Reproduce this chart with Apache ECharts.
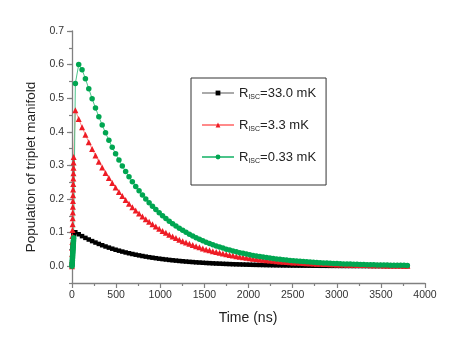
<!DOCTYPE html>
<html>
<head>
<meta charset="utf-8">
<script src="https://cdn.jsdelivr.net/npm/echarts@6/dist/echarts.min.js"></script>
<style>html,body{margin:0;padding:0;background:#fff;}#c{width:463px;height:354px;}</style>
</head>
<body>
<div id="c"></div>
<script>
// Time points (ns)
var timeNs = [0,1,2,3,4,5,6,7,8,9,10,11,12,13,14,15,16,17,18,19,
38,76,114,152,190,228,266,304,342,380,418,456,494,532,570,608,646,684,722,760,
798,836,874,912,950,988,1026,1064,1102,1140,1178,1216,1254,1292,1330,1368,1406,1444,1482,1520,
1558,1596,1634,1672,1710,1748,1786,1824,1862,1900,1938,1976,2014,2052,2090,2128,2166,2204,2242,2280,
2318,2356,2394,2432,2470,2508,2546,2584,2622,2660,2698,2736,2774,2812,2850,2888,2926,2964,3002,3040,
3078,3116,3154,3192,3230,3268,3306,3344,3382,3420,3458,3496,3534,3572,3610,3648,3686,3724,3762,3800];

// R_ISC = 33.0 mK (black squares)
var pop33 = [0,0.006,0.012,0.018,0.024,0.029,0.035,0.040,0.046,0.051,
0.056,0.061,0.066,0.071,0.076,0.080,0.085,0.089,0.093,0.097,
0.1010,0.0951,0.0895,0.0843,0.0794,0.0747,0.0704,0.0663,0.0624,0.0587,
0.0553,0.0521,0.0490,0.0462,0.0435,0.0409,0.0385,0.0363,0.0342,0.0322,
0.0303,0.0285,0.0268,0.0253,0.0238,0.0224,0.0211,0.0199,0.0187,0.0176,
0.0166,0.0156,0.0147,0.0138,0.0130,0.0123,0.0115,0.0109,0.0102,0.0096,
0.0091,0.0085,0.0080,0.0076,0.0071,0.0067,0.0063,0.0059,0.0056,0.0053,
0.0050,0.0047,0.0044,0.0041,0.0039,0.0037,0.0035,0.0033,0.0031,0.0029,
0.0027,0.0026,0.0024,0.0023,0.0021,0.0020,0.0019,0.0018,0.0017,0.0016,
0.0015,0.0014,0.0013,0.0012,0.0012,0.0011,0.0010,0.0010,0.0009,0.0008,
0.0008,0.0007,0.0007,0.0006,0.0006,0.0006,0.0005,0.0005,0.0005,0.0004,
0.0004,0.0004,0.0004,0.0003,0.0003,0.0003,0.0003,0.0003,0.0002,0.0002];

// R_ISC = 3.3 mK (red triangles)
var pop3_3 = [0,0.018,0.036,0.054,0.072,0.090,0.108,0.125,0.143,0.160,
0.177,0.194,0.211,0.228,0.245,0.261,0.277,0.293,0.309,0.325,
0.4640,0.4382,0.4139,0.3909,0.3692,0.3488,0.3294,0.3111,0.2939,0.2776,
0.2622,0.2476,0.2339,0.2209,0.2086,0.1970,0.1861,0.1758,0.1660,0.1568,
0.1481,0.1399,0.1321,0.1248,0.1179,0.1113,0.1051,0.0993,0.0938,0.0886,
0.0837,0.0790,0.0746,0.0705,0.0666,0.0629,0.0594,0.0561,0.0530,0.0500,
0.0473,0.0446,0.0422,0.0398,0.0376,0.0355,0.0336,0.0317,0.0299,0.0283,
0.0267,0.0252,0.0238,0.0225,0.0213,0.0201,0.0190,0.0179,0.0169,0.0160,
0.0151,0.0143,0.0135,0.0127,0.0120,0.0113,0.0107,0.0101,0.0096,0.0090,
0.0085,0.0081,0.0076,0.0072,0.0068,0.0064,0.0061,0.0057,0.0054,0.0051,
0.0048,0.0046,0.0043,0.0041,0.0039,0.0036,0.0034,0.0032,0.0031,0.0029,
0.0027,0.0026,0.0024,0.0023,0.0022,0.0021,0.0019,0.0018,0.0017,0.0016];

// R_ISC = 0.33 mK (green circles)
var pop0_33 = [0,0.0045,0.009,0.0135,0.018,0.0225,0.027,0.0315,0.036,0.0405,
0.045,0.0495,0.054,0.058,0.063,0.067,0.072,0.076,0.081,0.085,
0.544,0.600,0.585,0.558,0.5280,0.4987,0.4710,0.4449,0.4202,0.3969,
0.3748,0.3540,0.3344,0.3158,0.2983,0.2817,0.2661,0.2513,0.2374,0.2242,
0.2118,0.2000,0.1889,0.1784,0.1685,0.1592,0.1503,0.1420,0.1341,0.1267,
0.1196,0.1130,0.1067,0.1008,0.0952,0.0899,0.0849,0.0802,0.0758,0.0716,
0.0676,0.0638,0.0603,0.0569,0.0538,0.0508,0.0480,0.0453,0.0428,0.0404,
0.0382,0.0361,0.0341,0.0322,0.0304,0.0287,0.0271,0.0256,0.0242,0.0228,
0.0216,0.0204,0.0192,0.0182,0.0172,0.0162,0.0153,0.0145,0.0137,0.0129,
0.0122,0.0115,0.0109,0.0103,0.0097,0.0092,0.0087,0.0082,0.0077,0.0073,
0.0069,0.0065,0.0062,0.0058,0.0055,0.0052,0.0049,0.0046,0.0044,0.0041,
0.0039,0.0037,0.0035,0.0033,0.0031,0.0029,0.0028,0.0026,0.0025,0.0023];

var seriesNames = ['R_ISC=33.0 mK', 'R_ISC=3.3 mK', 'R_ISC=0.33 mK'];
var legendLabels = ['=33.0 mK', '=3.3 mK', '=0.33 mK'];
var yTickLabels = [0, 0.1, 0.2, 0.3, 0.4, 0.5, 0.6, 0.7];
var xTitle = 'Time (ns)';
var yTitle = 'Population of triplet manifold';

function pairs(vals) {
  var out = [];
  for (var i = 0; i < timeNs.length; i++) out.push([timeNs[i], vals[i]]);
  return out;
}

var FONT = 'Liberation Sans, Arial, Helvetica, sans-serif';
var AX = '#808080';

var chart = echarts.init(document.getElementById('c'), null, {renderer: 'canvas'});
chart.setOption({
  animation: false,
  backgroundColor: '#fff',
  grid: {left: 72, right: 38, top: 31, bottom: 71, containLabel: false},
  xAxis: {
    type: 'value', min: 0, max: 4000, interval: 500,
    axisLine: {show: true, onZero: false, lineStyle: {color: AX, width: 1.3}},
    axisTick: {show: true, length: 5, lineStyle: {color: AX, width: 1.2}},
    minorTick: {show: true, splitNumber: 2, length: 3, lineStyle: {color: AX, width: 1.2}},
    splitLine: {show: false},
    axisLabel: {fontSize: 10.5, color: '#333', fontFamily: FONT, margin: 7,
      formatter: function (v) { return String(v); }}
  },
  yAxis: [{
    type: 'value', min: -0.05, max: 0.7, position: 'left',
    axisLine: {show: true, onZero: false, lineStyle: {color: AX, width: 1.3}},
    axisTick: {show: true, length: 5, customValues: yTickLabels, lineStyle: {color: AX, width: 1.2}},
    splitLine: {show: false},
    axisLabel: {customValues: yTickLabels, fontSize: 10.5, color: '#333', fontFamily: FONT, margin: 8,
      formatter: function (v) { return v.toFixed(1); }}
  }, {
    type: 'value', min: -0.05, max: 0.7, interval: 0.05, position: 'left', offset: 0,
    axisLine: {show: false},
    axisTick: {show: true, length: 3, lineStyle: {color: AX, width: 1.2}},
    splitLine: {show: false},
    axisLabel: {show: false}
  }],
  legend: {
    left: 191, top: 78, orient: 'vertical',
    padding: [7, 10, 20, 10],
    borderColor: '#333', borderWidth: 1, backgroundColor: '#fff',
    itemWidth: 32, itemHeight: 6, itemGap: 16,
    data: seriesNames,
    formatter: function (name) {
      var i = seriesNames.indexOf(name);
      return '{r|R}{s|ISC}{r|' + legendLabels[i] + '}';
    },
    textStyle: {
      fontFamily: FONT, color: '#222', fontSize: 13, lineHeight: 16,
      rich: {
        r: {fontSize: 13, lineHeight: 16, fontFamily: FONT, color: '#222'},
        s: {fontSize: 7, lineHeight: 7, verticalAlign: 'bottom', fontFamily: FONT, color: '#222'}
      }
    }
  },
  graphic: [
    {type: 'text', x: 248, y: 318, style: {text: xTitle, font: '14px ' + FONT, fill: '#222', textAlign: 'center', textVerticalAlign: 'middle'}},
    {type: 'text', x: 31, y: 167, rotation: Math.PI / 2, style: {text: yTitle, font: '13.5px ' + FONT, fill: '#222', textAlign: 'center', textVerticalAlign: 'middle'}}
  ],
  series: [{
    name: seriesNames[0], type: 'line', data: pairs(pop33),
    symbol: 'rect', symbolSize: 4.5, showAllSymbol: true,
    itemStyle: {color: '#000'}, lineStyle: {color: '#aaa', width: 1.2}
  }, {
    name: seriesNames[1], type: 'line', data: pairs(pop3_3),
    symbol: 'triangle', symbolSize: 6, showAllSymbol: true,
    itemStyle: {color: '#ee1c25'}, lineStyle: {color: '#ff8a8a', width: 1}
  }, {
    name: seriesNames[2], type: 'line', data: pairs(pop0_33),
    symbol: 'circle', symbolSize: 5.5, showAllSymbol: true,
    itemStyle: {color: '#00a651'}, lineStyle: {color: '#4cc48a', width: 1}
  }]
});
</script>
</body>
</html>
